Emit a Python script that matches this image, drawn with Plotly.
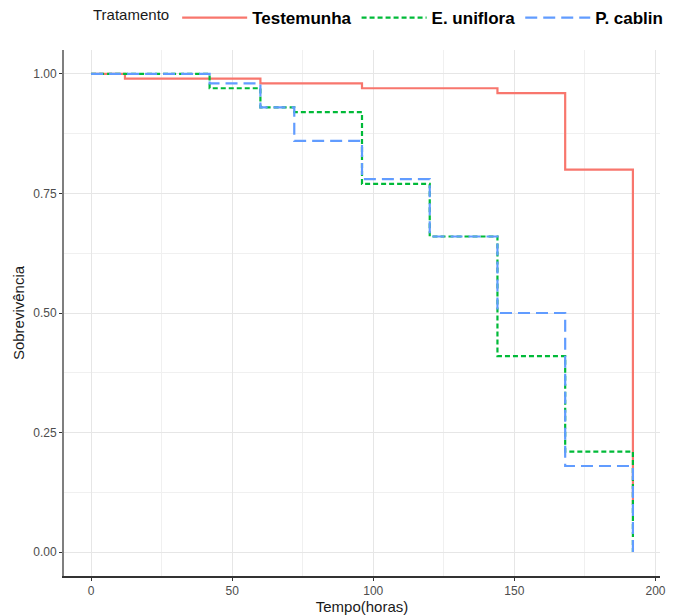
import plotly.graph_objects as go

# ---- data ----
series_names = ["Testemunha", "E. uniflora", "P. cablin"]

t_testemunha = [0, 12, 60, 96, 144, 168, 192]
s_testemunha = [1.00, 0.99, 0.98, 0.97, 0.96, 0.80, 0.10]

t_uniflora = [0, 42, 60, 72, 96, 120, 144, 168, 192]
s_uniflora = [1.00, 0.97, 0.93, 0.92, 0.77, 0.66, 0.41, 0.21, 0.00]

t_cablin = [0, 42, 60, 72, 96, 120, 144, 168, 192]
s_cablin = [1.00, 0.98, 0.93, 0.86, 0.78, 0.66, 0.50, 0.18, 0.00]

x_ticks = [0, 50, 100, 150, 200]
y_ticks = [0.00, 0.25, 0.50, 0.75, 1.00]

colors = ["#F8766D", "#00BA38", "#619CFF"]
dashes = ["solid", "5px,3px", "12px,6px"]

FONT = "Liberation Sans, Arial, sans-serif"

fig = go.Figure()
for name, t, s, c, d in zip(series_names,
                            [t_testemunha, t_uniflora, t_cablin],
                            [s_testemunha, s_uniflora, s_cablin],
                            colors, dashes):
    fig.add_trace(go.Scatter(
        x=t, y=s, mode="lines", name=name,
        line=dict(shape="hv", color=c, width=2.2, dash=d),
    ))

fig.update_layout(
    width=673, height=615,
    margin=dict(l=64, r=13, t=50, b=39),
    paper_bgcolor="white", plot_bgcolor="white",
    font=dict(family=FONT, color="#1a1a1a"),
    legend=dict(
        orientation="h",
        xref="container", yref="container",
        x=91 / 673, xanchor="left",
        y=1.0, yanchor="top",
        title=dict(text="Tratamento", side="left",
                   font=dict(size=15, family=FONT, color="#1a1a1a", weight="normal")),
        font=dict(size=17, family=FONT, color="#000000", weight="bold"),
        itemwidth=65,
        traceorder="normal",
    ),
    xaxis=dict(
        range=[-9.6, 201.6],
        automargin=False,
        tickvals=x_ticks,
        ticktext=[str(v) for v in x_ticks],
        showgrid=True, gridcolor="#e6e6e6", gridwidth=1,
        minor=dict(dtick=25, tick0=0, showgrid=True, gridcolor="#f0f0f0", gridwidth=1, ticks=""),
        zeroline=False,
        showline=True, linecolor="#333333", linewidth=1.5,
        ticks="outside", ticklen=3, tickcolor="#333333", tickwidth=1,
        tickfont=dict(size=12, color="#4d4d4d", family=FONT),
        title=dict(text="Tempo(horas)", font=dict(size=15, family=FONT, color="#1a1a1a"), standoff=2),
    ),
    yaxis=dict(
        range=[-0.05, 1.05],
        automargin=False,
        tickvals=y_ticks,
        ticktext=[f"{v:.2f}" for v in y_ticks],
        showgrid=True, gridcolor="#e6e6e6", gridwidth=1,
        minor=dict(dtick=0.125, tick0=0, showgrid=True, gridcolor="#f0f0f0", gridwidth=1, ticks=""),
        zeroline=False,
        showline=True, linecolor="#7f7f7f", linewidth=2,
        ticks="outside", ticklen=3, tickcolor="#333333", tickwidth=1,
        tickfont=dict(size=12, color="#4d4d4d", family=FONT),
        title=dict(text="Sobrevivência", font=dict(size=15, family=FONT, color="#1a1a1a"), standoff=5),
    ),
)

fig.write_html("out.html")
